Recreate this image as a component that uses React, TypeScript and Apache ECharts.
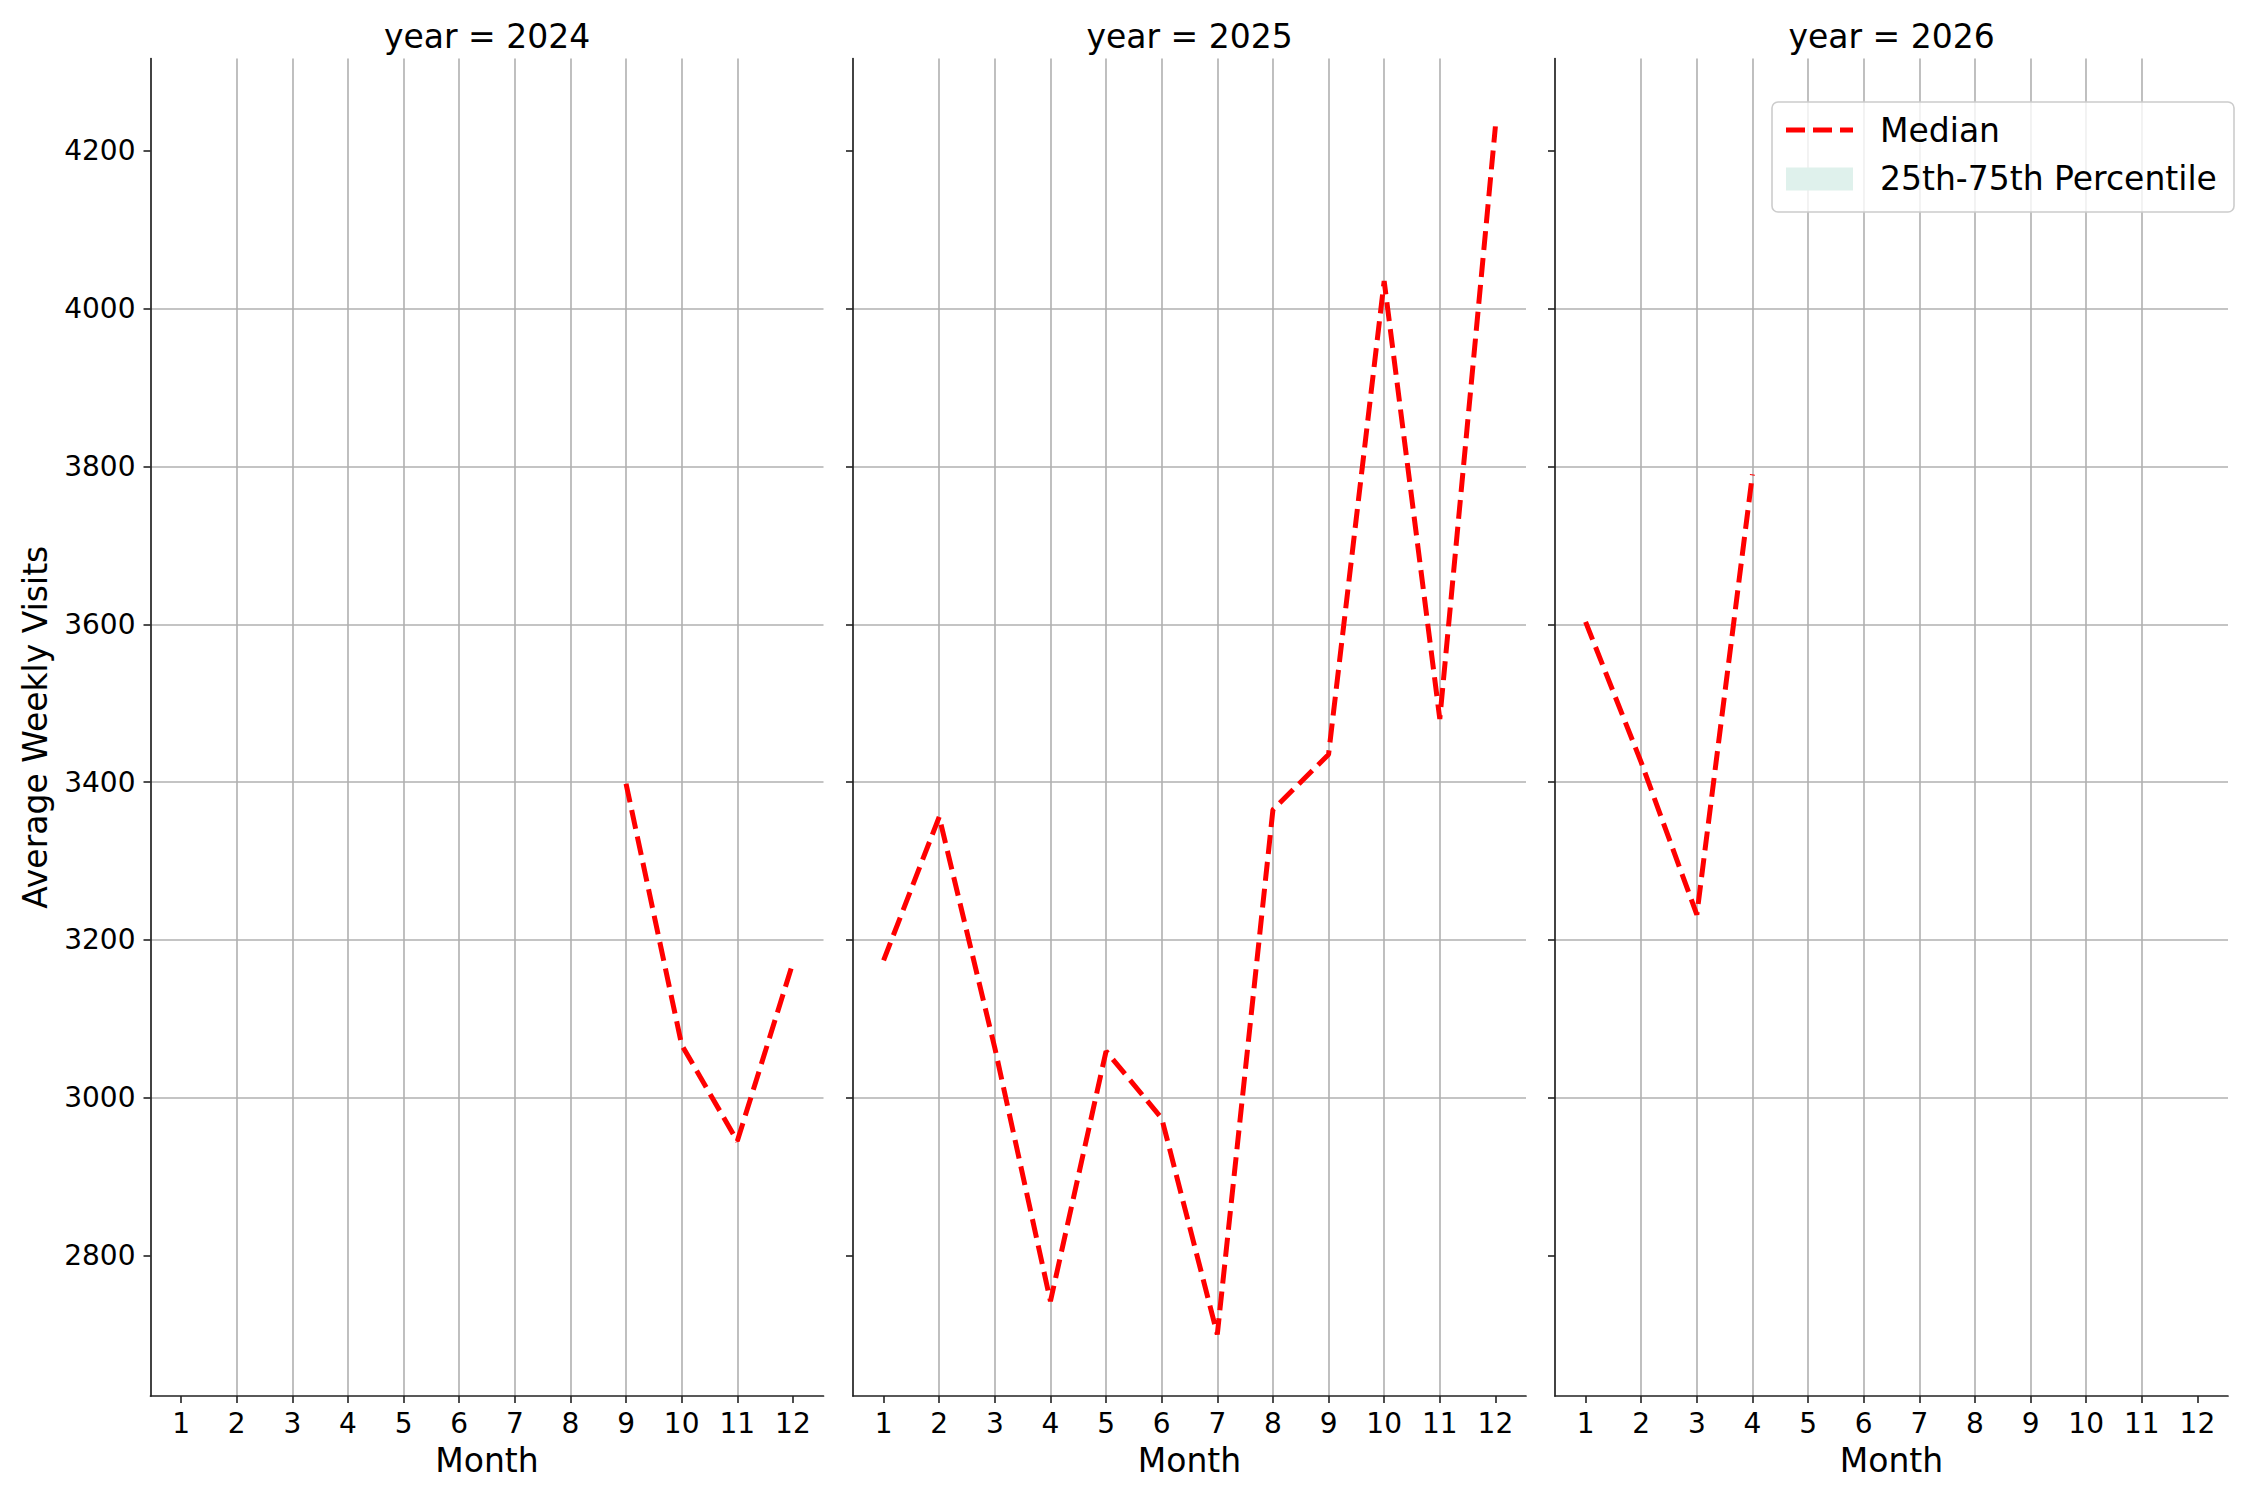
import { useEffect, useRef } from 'react';
import * as echarts from 'echarts';

// median of average weekly visits per month, one array per facet
const years = [2024, 2025, 2026];
const monthTicks = [1, 2, 3, 4, 5, 6, 7, 8, 9, 10, 11, 12];
const visitTicks = [2800, 3000, 3200, 3400, 3600, 3800, 4000, 4200];

const months2024 = [9, 10, 11, 12];
const median2024 = [3398, 3067, 2945, 3171];

const months2025 = [1, 2, 3, 4, 5, 6, 7, 8, 9, 10, 11, 12];
const median2025 = [3174, 3356, 3063, 2742, 3059, 2974, 2700, 3365, 3435, 4035, 3480, 4231];

const months2026 = [1, 2, 3, 4];
const median2026 = [3603, 3425, 3232, 3790];

const FONT = 'DejaVu Sans';
const panelLeft = [150.5, 853, 1555];
const panelWidth = 673;
const panelTop = 58.5;
const panelHeight = 1337.5;

const App = () => {
    const chartRef = useRef(null);

    useEffect(() => {
        const chart = echarts.init(chartRef.current!, null, { renderer: 'svg' });

        const monthsByYear = [months2024, months2025, months2026];
        const medianByYear = [median2024, median2025, median2026];

        const grid = years.map((_, i) => ({
            left: panelLeft[i],
            top: panelTop,
            width: panelWidth,
            height: panelHeight,
            outerBoundsMode: 'none',
        }));

        const xAxis = years.map((_, i) => ({
            type: 'value',
            gridIndex: i,
            min: 0.45,
            max: 12.55,
            minInterval: 1,
            maxInterval: 1,
            name: 'Month',
            nameLocation: 'middle',
            nameGap: 48,
            nameTextStyle: { fontFamily: FONT, fontSize: 33, color: '#000' },
            axisLine: { onZero: false, lineStyle: { color: '#222', width: 1.7 } },
            axisTick: { show: true, length: 7, customValues: monthTicks, lineStyle: { color: '#222', width: 1.6 } },
            axisLabel: {
                customValues: monthTicks,
                formatter: (v: number) => String(v),
                margin: 13,
                fontFamily: FONT,
                fontSize: 28,
                color: '#000',
            },
            splitLine: {
                show: true,
                showMinLine: false,
                showMaxLine: false,
                lineStyle: { color: '#b0b0b0', width: 1.6 },
            },
        }));

        const yAxis = years.map((_, i) => ({
            type: 'value',
            gridIndex: i,
            min: 2622,
            max: 4317,
            minInterval: 200,
            maxInterval: 200,
            name: i === 0 ? 'Average Weekly Visits' : '',
            nameLocation: 'middle',
            nameGap: 99,
            nameTextStyle: { fontFamily: FONT, fontSize: 33, color: '#000' },
            axisLine: { show: true, onZero: false, lineStyle: { color: '#222', width: 1.7 } },
            axisTick: { show: true, length: 7, customValues: visitTicks, lineStyle: { color: '#222', width: 1.6 } },
            axisLabel: {
                show: i === 0,
                customValues: visitTicks,
                formatter: (v: number) => String(v),
                margin: 15,
                fontFamily: FONT,
                fontSize: 28,
                color: '#000',
            },
            splitLine: {
                show: true,
                showMinLine: false,
                showMaxLine: false,
                lineStyle: { color: '#b0b0b0', width: 1.6 },
            },
        }));

        const series = years.map((year, i) => ({
            name: 'Median',
            type: 'line',
            xAxisIndex: i,
            yAxisIndex: i,
            data: monthsByYear[i].map((m, j) => [m, medianByYear[i][j]]),
            symbol: 'none',
            lineStyle: { color: '#ff0000', width: 5, type: [19, 8] },
            z: 5,
        }));

        const titles = years.map((year, i) => ({
            type: 'text',
            x: panelLeft[i] + panelWidth / 2,
            y: 36.5,
            style: {
                text: `year = ${year}`,
                font: `33px "${FONT}"`,
                fill: '#000',
                textAlign: 'center',
                textVerticalAlign: 'middle',
            },
        }));

        const legend = [
            {
                type: 'rect',
                shape: { x: 1772, y: 102, width: 462, height: 110, r: 6 },
                style: { fill: 'rgba(255,255,255,0.8)', stroke: '#cccccc', lineWidth: 1.6 },
                z: 10,
            },
            {
                type: 'line',
                shape: { x1: 1786, y1: 130, x2: 1853, y2: 130 },
                style: { stroke: '#ff0000', lineWidth: 5, lineDash: [19, 8] },
                z: 11,
            },
            {
                type: 'rect',
                shape: { x: 1786, y: 167.5, width: 67, height: 23 },
                style: { fill: '#dff1ec' },
                z: 11,
            },
            {
                type: 'text',
                x: 1880,
                y: 130.5,
                style: {
                    text: 'Median',
                    font: `33px "${FONT}"`,
                    fill: '#000',
                    textAlign: 'left',
                    textVerticalAlign: 'middle',
                },
                z: 11,
            },
            {
                type: 'text',
                x: 1880,
                y: 178.5,
                style: {
                    text: '25th-75th Percentile',
                    font: `33px "${FONT}"`,
                    fill: '#000',
                    textAlign: 'left',
                    textVerticalAlign: 'middle',
                },
                z: 11,
            },
        ];

        chart.setOption({
            animation: false,
            backgroundColor: '#ffffff',
            textStyle: { fontFamily: FONT },
            grid,
            xAxis,
            yAxis,
            series,
            graphic: { elements: [...titles, ...legend] },
        } as any);

        return () => {
            chart.dispose();
        };
    }, []);

    return (
        <div
            ref={chartRef}
            style={{ position: 'fixed', left: 0, top: 0, width: '2250px', height: '1500px', background: '#fff' }}
        />
    );
};

export default App;
